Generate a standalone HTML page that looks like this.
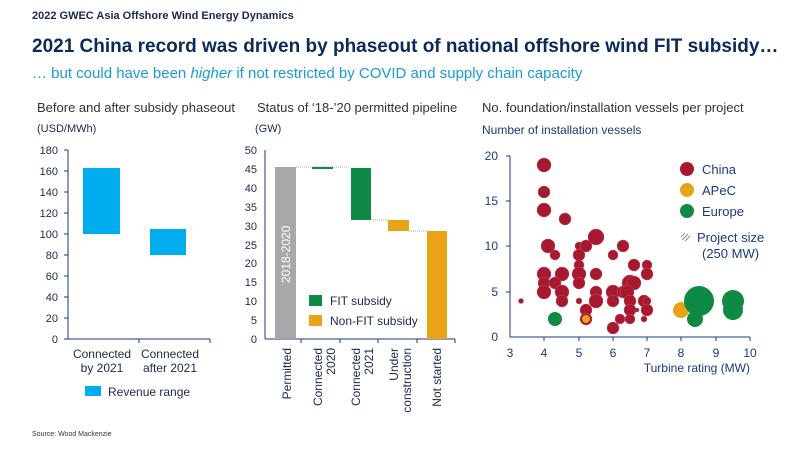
<!DOCTYPE html><html><head><meta charset="utf-8"><style>
body{margin:0;width:800px;height:450px;background:#fff;font-family:"Liberation Sans",sans-serif;overflow:hidden;position:relative}
.t{position:absolute;white-space:nowrap}
</style></head><body>
<div class="t" style="left:32px;top:10px;font-size:11px;font-weight:bold;color:#1a2a4a">2022 GWEC Asia Offshore Wind Energy Dynamics</div>
<div class="t" style="left:32px;top:36px;font-size:19px;font-weight:bold;color:#0b2a5b">2021 China record was driven by phaseout of national offshore wind FIT subsidy…</div>
<div class="t" style="left:32px;top:65px;font-size:15px;color:#1a9ad6">… but could have been <i>higher</i> if not restricted by COVID and supply chain capacity</div>
<div class="t" style="left:37px;top:100px;font-size:13px;color:#333">Before and after subsidy phaseout</div>
<div class="t" style="left:257px;top:100px;font-size:13px;color:#333">Status of ‘18-’20 permitted pipeline</div>
<div class="t" style="left:482px;top:100px;font-size:13px;color:#333">No. foundation/installation vessels per project</div>
<div class="t" style="left:37px;top:123px;font-size:11px;color:#1a2a4a">(USD/MWh)</div>
<div class="t" style="left:255px;top:123px;font-size:11px;color:#1a2a4a">(GW)</div>
<div class="t" style="left:482px;top:123px;font-size:12px;color:#1a3a7a">Number of installation vessels</div>
<div class="t" style="left:32px;top:431px;font-size:7px;color:#333">Source: Wood Mackenzie</div>
<svg width="800" height="450" style="position:absolute;left:0;top:0" font-family="Liberation Sans, sans-serif">
<g font-size="11" fill="#1a2a4a" text-anchor="end">
<line x1="68" y1="150" x2="68" y2="339" stroke="#1a3a7a"/>
<line x1="68" y1="339" x2="210" y2="339" stroke="#1a3a7a"/>
<text x="58" y="343">0</text><text x="58" y="322">20</text><text x="58" y="301">40</text><text x="58" y="280">60</text><text x="58" y="259">80</text><text x="58" y="238">100</text><text x="58" y="217">120</text><text x="58" y="196">140</text><text x="58" y="175">160</text><text x="58" y="154">180</text>
</g>
<g stroke="#1a3a7a"><line x1="64" y1="339" x2="68" y2="339"/><line x1="64" y1="318" x2="68" y2="318"/><line x1="64" y1="297" x2="68" y2="297"/><line x1="64" y1="276" x2="68" y2="276"/><line x1="64" y1="255" x2="68" y2="255"/><line x1="64" y1="234" x2="68" y2="234"/><line x1="64" y1="213" x2="68" y2="213"/><line x1="64" y1="192" x2="68" y2="192"/><line x1="64" y1="171" x2="68" y2="171"/><line x1="64" y1="150" x2="68" y2="150"/><line x1="139" y1="339" x2="139" y2="343"/><line x1="210" y1="339" x2="210" y2="343"/></g>
<rect x="83" y="168" width="37" height="66" fill="#00aeef"/>
<rect x="150" y="229" width="36" height="26" fill="#00aeef"/>
<g font-size="12" fill="#1a2a4a" text-anchor="middle"><text x="102" y="358">Connected</text><text x="102" y="372">by 2021</text><text x="170" y="358">Connected</text><text x="170" y="372">after 2021</text></g>
<rect x="85" y="386" width="16" height="10" fill="#00aeef"/><text x="108" y="396" font-size="12" fill="#1a2a4a">Revenue range</text>
<line x1="265" y1="150" x2="265" y2="339" stroke="#1a3a7a"/>
<line x1="265" y1="339" x2="455" y2="339" stroke="#1a3a7a"/>
<g font-size="11" fill="#1a2a4a" text-anchor="end">
<text x="257" y="343">0</text><text x="257" y="324">5</text><text x="257" y="305">10</text><text x="257" y="286">15</text><text x="257" y="267">20</text><text x="257" y="249">25</text><text x="257" y="230">30</text><text x="257" y="211">35</text><text x="257" y="192">40</text><text x="257" y="173">45</text><text x="257" y="154">50</text></g>
<g stroke="#1a3a7a"><line x1="301" y1="339" x2="301" y2="343"/><line x1="340" y1="339" x2="340" y2="343"/><line x1="378" y1="339" x2="378" y2="343"/><line x1="417" y1="339" x2="417" y2="343"/><line x1="455" y1="339" x2="455" y2="343"/></g>
<g stroke="#aaa" stroke-dasharray="1,1"><line x1="296" y1="167" x2="350" y2="167"/><line x1="371" y1="220" x2="388" y2="220"/><line x1="409" y1="231" x2="427" y2="231"/></g>
<rect x="275" y="167" width="21" height="172" fill="#a7a8aa"/>
<text transform="translate(290,283) rotate(-90)" font-size="12" fill="#fff">2018-2020</text>
<rect x="312" y="167" width="21" height="2" fill="#0e8a44"/>
<rect x="351" y="168" width="20" height="52" fill="#0e8a44"/>
<rect x="388" y="220" width="21" height="11" fill="#e8a317"/>
<rect x="427" y="231" width="20" height="108" fill="#e8a317"/>
<rect x="309" y="295" width="13" height="11" fill="#0e8a44"/><text x="330" y="305" font-size="12" fill="#1a2a4a">FIT subsidy</text>
<rect x="309" y="315" width="13" height="11" fill="#e8a317"/><text x="330" y="325" font-size="12" fill="#1a2a4a">Non-FIT subsidy</text>
<g font-size="12" fill="#1a2a4a" text-anchor="end">
<text transform="translate(291,348) rotate(-90)">Permitted</text>
<text transform="translate(322,348) rotate(-90)">Connected</text><text transform="translate(335,348) rotate(-90)">2020</text>
<text transform="translate(360,348) rotate(-90)">Connected</text><text transform="translate(373,348) rotate(-90)">2021</text>
<text transform="translate(398,348) rotate(-90)">Under</text><text transform="translate(411,348) rotate(-90)">construction</text>
<text transform="translate(441,348) rotate(-90)">Not started</text></g>
<line x1="510" y1="156" x2="510" y2="337" stroke="#1a3a7a"/>
<line x1="510" y1="337" x2="750" y2="337" stroke="#1a3a7a"/>
<g stroke="#1a3a7a"><line x1="506" y1="156" x2="510" y2="156"/><line x1="506" y1="201" x2="510" y2="201"/><line x1="506" y1="246" x2="510" y2="246"/><line x1="506" y1="292" x2="510" y2="292"/><line x1="544" y1="337" x2="544" y2="341"/><line x1="579" y1="337" x2="579" y2="341"/><line x1="613" y1="337" x2="613" y2="341"/><line x1="647" y1="337" x2="647" y2="341"/><line x1="681" y1="337" x2="681" y2="341"/><line x1="716" y1="337" x2="716" y2="341"/><line x1="750" y1="337" x2="750" y2="341"/></g>
<g font-size="12" fill="#1a3a7a" text-anchor="end"><text x="498" y="341">0</text><text x="498" y="296">5</text><text x="498" y="250">10</text><text x="498" y="205">15</text><text x="498" y="160">20</text></g>
<g font-size="12" fill="#1a3a7a" text-anchor="middle"><text x="510" y="357">3</text><text x="544" y="357">4</text><text x="579" y="357">5</text><text x="613" y="357">6</text><text x="647" y="357">7</text><text x="681" y="357">8</text><text x="716" y="357">9</text><text x="750" y="357">10</text></g>
<text x="750" y="372" font-size="12" fill="#1a3a7a" text-anchor="end">Turbine rating (MW)</text>
<g fill="#a6192e" stroke="#c65060" stroke-width="0.5">
<circle cx="544" cy="165" r="7"/><circle cx="544" cy="192" r="6"/><circle cx="544" cy="210" r="7"/><circle cx="565" cy="219" r="6"/><circle cx="548" cy="246" r="7"/><circle cx="555" cy="255" r="5"/><circle cx="544" cy="274" r="7"/><circle cx="562" cy="274" r="7"/><circle cx="544" cy="283" r="6"/><circle cx="555" cy="283" r="6"/><circle cx="544" cy="292" r="7"/><circle cx="562" cy="292" r="7"/><circle cx="562" cy="301" r="6"/><circle cx="521" cy="301" r="2.5"/>
<circle cx="579" cy="246" r="4"/><circle cx="586" cy="246" r="6"/><circle cx="596" cy="237" r="8"/><circle cx="579" cy="255" r="6"/><circle cx="579" cy="265" r="5"/><circle cx="579" cy="274" r="7"/><circle cx="579" cy="283" r="6"/><circle cx="596" cy="274" r="6"/><circle cx="596" cy="292" r="6"/><circle cx="596" cy="301" r="7"/><circle cx="579" cy="301" r="3"/><circle cx="586" cy="310" r="6"/><circle cx="586" cy="319" r="6"/>
<circle cx="613" cy="255" r="5"/><circle cx="623" cy="246" r="6"/><circle cx="634" cy="265" r="6"/><circle cx="613" cy="292" r="7"/><circle cx="623" cy="292" r="6"/><circle cx="630" cy="283" r="8"/><circle cx="634" cy="283" r="7"/><circle cx="627" cy="292" r="7"/><circle cx="630" cy="301" r="6"/><circle cx="630" cy="310" r="6"/><circle cx="630" cy="319" r="5"/><circle cx="613" cy="301" r="6"/><circle cx="620" cy="319" r="5"/><circle cx="613" cy="328" r="6"/><circle cx="637" cy="310" r="2"/><circle cx="644" cy="301" r="6"/><circle cx="647" cy="301" r="4"/><circle cx="647" cy="265" r="5"/><circle cx="647" cy="274" r="6"/><circle cx="647" cy="310" r="6"/><circle cx="644" cy="319" r="3"/>
</g>
<g fill="#e8a317"><circle cx="586" cy="319" r="4"/><circle cx="681" cy="310" r="8"/></g>
<g fill="#0e8a44"><circle cx="555" cy="319" r="7"/><circle cx="699" cy="301" r="15"/><circle cx="695" cy="319" r="8"/><circle cx="733" cy="301" r="11"/><circle cx="733" cy="310" r="10"/></g>
<circle cx="687" cy="169" r="7" fill="#a6192e"/><text x="702" y="174" font-size="13" fill="#1a3a7a">China</text>
<circle cx="687" cy="190" r="7" fill="#e8a317"/><text x="702" y="195" font-size="13" fill="#1a3a7a">APeC</text>
<circle cx="687" cy="211" r="7" fill="#0e8a44"/><text x="702" y="216" font-size="13" fill="#1a3a7a">Europe</text>
<g stroke="#888" stroke-width="1"><line x1="681" y1="237" x2="685" y2="233"/><line x1="682" y1="240" x2="688" y2="234"/><line x1="685" y1="241" x2="690" y2="236"/></g>
<text x="697" y="242" font-size="13" fill="#1a3a7a">Project size</text>
<text x="702" y="258" font-size="13" fill="#1a3a7a">(250 MW)</text>
</svg>
</body></html>
